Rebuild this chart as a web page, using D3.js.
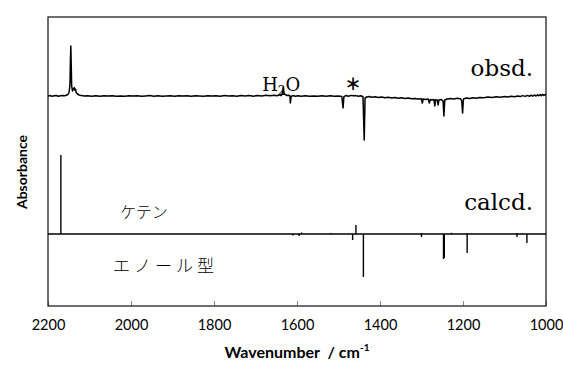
<!DOCTYPE html>
<html>
<head>
<meta charset="utf-8">
<script src="https://cdn.jsdelivr.net/npm/d3@7"></script>
<style>
  body { margin: 0; background: #fff; }
  svg { display: block; }
</style>
</head>
<body>
<div id="chart"></div>
<script>
// tick labels of the wavenumber axis
const xTicks = [2200, 2000, 1800, 1600, 1400, 1200, 1000];

// observed spectrum [wavenumber, absorbance above its baseline]
const obsdPoints = [
  [2200,0.000],[2195,0.004],[2190,-0.003],[2185,0.002],[2180,0.005],[2175,-0.002],[2170,0.003],[2165,0.006],
  [2160,0.002],[2156,0.008],[2152,0.015],[2149,0.04],[2147,0.12],[2146,0.35],[2145,0.50],[2144,0.30],
  [2143,0.10],[2141,0.05],[2139,0.07],[2137,0.085],[2136,0.06],[2134,0.07],[2132,0.035],[2129,0.02],
  [2125,0.01],[2120,0.004],[2112,0.0],[2104,0.003],[2095,-0.002],[2085,0.003],[2075,-0.003],[2065,0.002],
  [2055,-0.001],[2045,0.003],[2035,-0.002],[2025,0.001],[2015,-0.003],[2005,0.002],[1995,-0.001],[1985,0.003],
  [1975,-0.002],[1965,0.001],[1955,0.004],[1945,-0.002],[1935,0.002],[1925,-0.003],[1915,0.001],[1905,0.003],
  [1895,-0.002],[1885,0.002],[1875,-0.001],[1865,0.003],[1855,-0.003],[1845,0.002],[1835,0.001],[1825,-0.002],
  [1815,0.003],[1805,-0.001],[1795,0.002],[1785,-0.003],[1775,0.004],[1765,-0.001],[1755,0.003],[1745,-0.002],
  [1735,0.004],[1725,0.0],[1715,0.005],[1705,-0.002],[1695,0.006],[1685,0.001],[1675,0.007],[1665,0.002],
  [1655,0.008],[1648,0.003],[1642,0.012],[1638,0.004],[1635,0.03],[1633,0.09],[1631,0.02],[1628,0.015],
  [1624,0.005],[1620,0.008],[1617,0.0],[1616,-0.07],[1614,-0.005],[1610,0.004],[1604,-0.002],[1598,0.002],
  [1590,-0.003],[1580,0.002],[1570,-0.002],[1560,0.001],[1550,-0.003],[1540,0.002],[1530,-0.002],[1520,0.003],
  [1510,-0.002],[1500,0.001],[1492,-0.004],[1489,-0.12],[1487,-0.006],[1482,0.004],[1476,-0.002],[1470,0.006],
  [1464,0.002],[1458,0.004],[1452,-0.003],[1446,0.002],[1441,-0.008],[1438,-0.44],[1436,-0.02],[1432,-0.01],
  [1426,-0.006],[1420,-0.012],[1412,-0.008],[1404,-0.015],[1396,-0.01],[1388,-0.018],[1380,-0.013],[1372,-0.02],
  [1364,-0.016],[1356,-0.022],[1348,-0.018],[1340,-0.025],[1332,-0.02],[1324,-0.028],[1316,-0.024],[1308,-0.03],
  [1300,-0.028],[1298,-0.07],[1296,-0.03],[1290,-0.034],[1284,-0.03],[1281,-0.07],[1279,-0.035],[1275,-0.04],
  [1270,-0.035],[1268,-0.10],[1266,-0.038],[1262,-0.04],[1260,-0.09],[1258,-0.04],[1252,-0.035],[1248,-0.05],
  [1246,-0.20],[1244,-0.04],[1238,-0.03],[1230,-0.025],[1222,-0.03],[1214,-0.022],[1206,-0.028],[1203,-0.05],
  [1201,-0.17],[1199,-0.03],[1192,-0.02],[1184,-0.025],[1176,-0.018],[1168,-0.022],[1160,-0.015],[1150,-0.018],
  [1140,-0.01],[1130,-0.014],[1120,-0.008],[1110,-0.012],[1100,-0.005],[1092,-0.01],[1084,-0.002],[1076,-0.008],
  [1068,0.0],[1062,-0.006],[1056,0.004],[1050,-0.004],[1045,0.006],[1040,-0.003],[1036,0.008],[1032,-0.002],
  [1028,0.01],[1024,0.0],[1020,0.012],[1017,0.002],[1014,0.014],[1011,0.004],[1008,0.016],[1005,0.005],
  [1002,0.015],[1000,0.01]
];

// calculated sticks [wavenumber, intensity]; ketene up, enol down
const keteneSticks = [[2169,0.79],[1589,0.015],[1519,0.01],[1458,0.09],[1300,0.01],[1228,0.012],[1190,0.01],[1070,0.01]];
const enolSticks = [[1610,-0.015],[1595,-0.02],[1466,-0.06],[1440,-0.43],[1300,-0.03],[1247,-0.25],[1245,-0.24],[1190,-0.19],[1070,-0.03],[1046,-0.09]];

// vertical offsets of the two traces
const obsdOffset = 2.10;
const calcdOffset = 0.72;

const W = 563, H = 365;
const m = {top: 17, right: 17, bottom: 59, left: 48};

const svg = d3.select("#chart").append("svg")
  .attr("width", W).attr("height", H);

const x = d3.scaleLinear().domain([2200, 1000]).range([m.left, W - m.right]);
const y = d3.scaleLinear().domain([0, 2.89]).range([H - m.bottom, m.top]);

const sans = "Lato, 'Open Sans', sans-serif";

// axis with inward ticks
const xAxis = d3.axisBottom(x).tickValues(xTicks).tickFormat(d3.format("d"))
  .tickSizeInner(-5).tickSizeOuter(0).tickPadding(14);
const gx = svg.append("g").attr("transform", `translate(0,${H - m.bottom})`).call(xAxis);
gx.select(".domain").remove();
gx.selectAll(".tick line").attr("stroke", "#888");
gx.selectAll(".tick text").attr("font-family", sans)
  .attr("font-size", 14.5).attr("fill", "#000");

// frame
svg.append("rect")
  .attr("x", m.left).attr("y", m.top)
  .attr("width", W - m.left - m.right).attr("height", H - m.top - m.bottom)
  .attr("fill", "none").attr("stroke", "#222").attr("stroke-width", 1.3);

// observed trace
const line = d3.line().x(d => x(d[0])).y(d => y(d[1] + obsdOffset));
svg.append("path").datum(obsdPoints)
  .attr("d", line).attr("fill", "none").attr("stroke", "#000")
  .attr("stroke-width", 1.5).attr("stroke-linejoin", "round");

// calcd baseline + sticks
svg.append("line")
  .attr("x1", x(2200)).attr("x2", x(1000))
  .attr("y1", y(calcdOffset)).attr("y2", y(calcdOffset))
  .attr("stroke", "#000").attr("stroke-width", 1.4);

svg.selectAll("line.stick")
  .data(keteneSticks.concat(enolSticks))
  .join("line").attr("class", "stick")
  .attr("x1", d => x(d[0])).attr("x2", d => x(d[0]))
  .attr("y1", y(calcdOffset)).attr("y2", d => y(calcdOffset + d[1]))
  .attr("stroke", "#000").attr("stroke-width", 1.4);

// labels
const serif = "'DejaVu Serif', 'Liberation Serif', serif";
const h2o = svg.append("text").attr("x", x(1684)).attr("y", 91)
  .attr("font-family", serif).attr("font-size", 18);
h2o.append("tspan").text("H");
h2o.append("tspan").text("2").attr("font-size", 12).attr("dy", 4);
h2o.append("tspan").text("O").attr("dy", -4);

svg.append("text").attr("x", x(1465)).attr("y", 90).attr("text-anchor", "middle")
  .attr("font-family", "'DejaVu Sans', sans-serif")
  .attr("font-size", 20).text("\u2217");

svg.append("text").attr("x", 533).attr("y", 76).attr("text-anchor", "end")
  .attr("font-family", serif).attr("font-size", 23).text("obsd.");
svg.append("text").attr("x", 533).attr("y", 210).attr("text-anchor", "end")
  .attr("font-family", serif).attr("font-size", 23).text("calcd.");

const jp = "'Noto Sans CJK JP', sans-serif";
svg.append("text").attr("x", 120).attr("y", 218)
  .attr("font-family", jp).attr("font-weight", 300).attr("font-size", 16).text("ケテン");
svg.append("text").attr("x", 113).attr("y", 272)
  .attr("font-family", jp).attr("font-weight", 300).attr("font-size", 17)
  .attr("letter-spacing", 4).text("エノール型");

// axis titles
const title = svg.append("text")
  .attr("x", (m.left + W - m.right) / 2).attr("y", 358).attr("text-anchor", "middle")
  .attr("font-family", sans).attr("font-weight", "bold").attr("font-size", 16);
title.append("tspan").text("Wavenumber  / cm").attr("xml:space", "preserve");
title.append("tspan").text("-1").attr("font-size", 10).attr("dy", -7);

svg.append("text")
  .attr("transform", `translate(27,172) rotate(-90)`)
  .attr("text-anchor", "middle")
  .attr("font-family", sans).attr("font-weight", "bold").attr("font-size", 14)
  .text("Absorbance");
</script>
</body>
</html>
